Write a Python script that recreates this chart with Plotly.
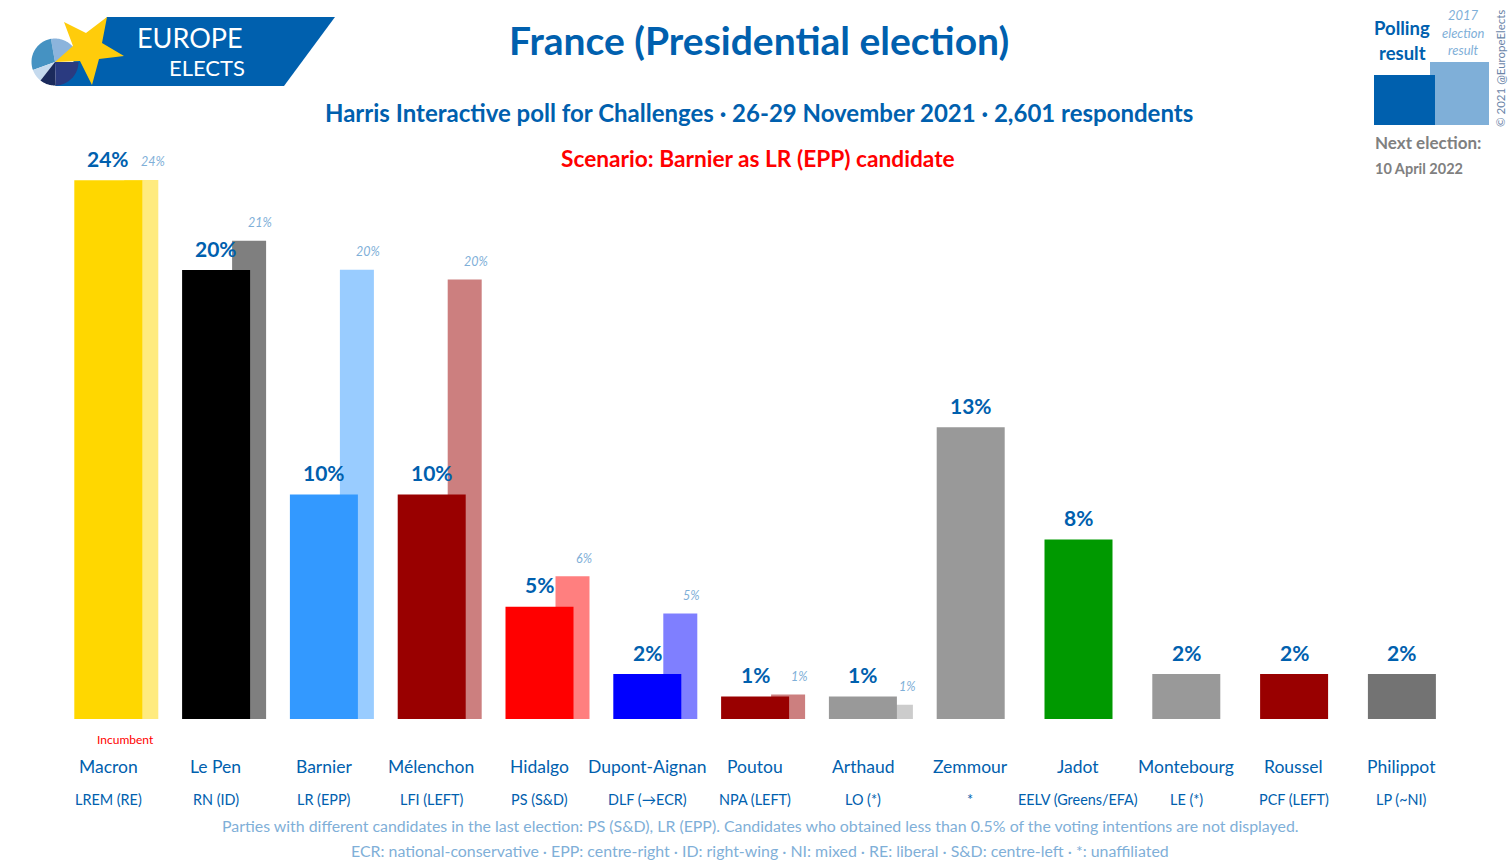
import math
import plotly.graph_objects as go

WIDTH = 1510
HEIGHT = 865
BLUE = "#0060AE"
LIGHT = "#7FAFD8"
FONT = "Lato, Roboto, sans-serif"

candidates = ["Macron", "Le Pen", "Barnier", "Mélenchon", "Hidalgo", "Dupont-Aignan", "Poutou",
              "Arthaud", "Zemmour", "Jadot", "Montebourg", "Roussel", "Philippot"]
parties = ["LREM (RE)", "RN (ID)", "LR (EPP)", "LFI (LEFT)", "PS (S&D)", "DLF (→ECR)", "NPA (LEFT)",
           "LO (*)", "*", "EELV (Greens/EFA)", "LE (*)", "PCF (LEFT)", "LP (~NI)"]
poll_values = [24, 20, 10, 10, 5, 2, 1, 1, 13, 8, 2, 2, 2]
colors = ["#FFD700", "#000000", "#3399FF", "#990000", "#FF0000", "#0000FF", "#990000",
          "#999999", "#999999", "#009900", "#999999", "#990000", "#737373"]
election_values = [24.01, 21.30, 20.01, 19.58, 6.36, 4.70, 1.09, 0.64]
election_labels = ["24%", "21%", "20%", "20%", "6%", "5%", "1%", "1%"]

x_pos = list(range(len(candidates)))
x_unit = 107.8  # pixels per candidate slot
px_per_pct = 22.45
base_px = 719


def px(x):
    return x / WIDTH


def py(y):
    return 1 - y / HEIGHT


def poly(points):
    return "M " + " L ".join(f"{px(a):.5f},{py(b):.5f}" for a, b in points) + " Z"


def add_text(fig, text, x, y, size, color=BLUE, xanchor="center", **kwargs):
    fig.add_annotation(
        text=text, x=px(x), y=py(y), xref="paper", yref="paper", showarrow=False,
        xanchor=xanchor, yanchor="middle", font=dict(family=FONT, size=size, color=color), **kwargs,
    )


fig = go.Figure()

# 2017 bars sit behind the polling bars, half transparent
fig.add_trace(go.Bar(
    x=x_pos[:len(election_values)],
    y=election_values,
    width=34 / x_unit,
    offset=16 / x_unit,
    marker=dict(color=colors[:len(election_values)], opacity=0.5, line=dict(width=0)),
    hoverinfo="skip",
))
fig.add_trace(go.Bar(
    x=x_pos,
    y=poll_values,
    width=68 / x_unit,
    offset=-34 / x_unit,
    marker=dict(color=colors, line=dict(width=0)),
    hoverinfo="skip",
))

fig.update_layout(
    width=WIDTH,
    height=HEIGHT,
    margin=dict(l=0, r=0, t=0, b=0),
    paper_bgcolor="white",
    plot_bgcolor="white",
    barmode="overlay",
    showlegend=False,
    xaxis=dict(range=[-108.3 / x_unit, (WIDTH - 108.3) / x_unit], visible=False),
    yaxis=dict(domain=[(HEIGHT - base_px) / HEIGHT, 1], range=[0, base_px / px_per_pct], visible=False),
)

# value labels, pinned to the bars through the axes
for i, v, label in zip(x_pos, election_values, election_labels):
    fig.add_annotation(x=i + 0.41, y=v, yshift=18, text=f"<i>{label}</i>", showarrow=False,
                       font=dict(family=FONT, size=12.5, color=LIGHT))
for i, v in zip(x_pos, poll_values):
    fig.add_annotation(x=i, y=v, yshift=22, text=f"<b>{v}%</b>", showarrow=False,
                       font=dict(family=FONT, size=21, color=BLUE))

# logo
fig.add_shape(type="path", path=poly([(107, 17), (335, 17), (284, 86), (55, 86)]),
              fillcolor="#0060AE", line_width=0, xref="paper", yref="paper")
pie_slices = [(-100, -20, "#8CB4DC"), (-200, -100, "#4592C2"), (-200, -232, "#C5DAEE"),
              (-232, -272, "#1B2A5C"), (-272, -360, "#2A3A80")]
for start, end, col in pie_slices:
    steps = 24
    arc = [(55 + 23.5 * math.cos(math.radians(start + (end - start) * k / steps)),
            62 + 23.5 * math.sin(math.radians(start + (end - start) * k / steps)))
           for k in range(steps + 1)]
    fig.add_shape(type="path", path=poly([(55, 62)] + arc), fillcolor=col, line_width=0,
                  xref="paper", yref="paper")
fig.add_shape(type="path",
              path=poly([(107, 17), (102, 43), (124, 56), (99, 59), (92, 85), (80, 61),
                         (55, 62), (73, 46), (64, 22), (86, 33)]),
              fillcolor="#FFCC0B", line_width=0, xref="paper", yref="paper")
add_text(fig, "EUROPE", 190, 37, 27, "white")
add_text(fig, "ELECTS", 207, 68, 22, "white")

# key, top right
fig.add_shape(type="rect", x0=px(1430), x1=px(1489), y0=py(125), y1=py(62),
              fillcolor=LIGHT, line_width=0, xref="paper", yref="paper")
fig.add_shape(type="rect", x0=px(1374), x1=px(1435), y0=py(125), y1=py(75),
              fillcolor=BLUE, line_width=0, xref="paper", yref="paper")
add_text(fig, "<b>Polling</b>", 1402, 28, 18.5)
add_text(fig, "<b>result</b>", 1402, 53, 18.5)
add_text(fig, "<i>2017</i>", 1463, 15, 13, LIGHT)
add_text(fig, "<i>election</i>", 1463, 33, 13, LIGHT)
add_text(fig, "<i>result</i>", 1463, 50, 13, LIGHT)
add_text(fig, "© 2021 @EuropeElects", 1500, 69, 11.5, "#6A84A8", textangle=-90)
add_text(fig, "<b>Next election:</b>", 1373, 143, 17, "#808080", xanchor="left")
add_text(fig, "<b>10 April 2022</b>", 1373, 168, 14.5, "#808080", xanchor="left")

# headings
add_text(fig, "<b>France (Presidential election)</b>", 759, 40, 39)
add_text(fig, "<b>Harris Interactive poll for Challenges · 26-29 November 2021 · 2,601 respondents</b>",
         759, 113, 24)
add_text(fig, "<b>Scenario: Barnier as LR (EPP) candidate</b>", 758, 159, 22.7, "#FF0000")

# candidate and party rows
for name, party, i in zip(candidates, parties, x_pos):
    add_text(fig, name, 108 + i * x_unit, 766, 17.5)
    add_text(fig, party, 108 + i * x_unit, 799, 14.4)
add_text(fig, "Incumbent", 125, 739, 12, "#FF0000")

add_text(fig, "Parties with different candidates in the last election: PS (S&D), LR (EPP). "
              "Candidates who obtained less than 0.5% of the voting intentions are not displayed.",
         760, 825, 15.9, LIGHT)
add_text(fig, "ECR: national-conservative · EPP: centre-right · ID: right-wing · NI: mixed · "
              "RE: liberal · S&D: centre-left · *: unaffiliated",
         760, 850, 15.9, LIGHT)

fig.write_html("out.html", config=dict(displayModeBar=False),
               post_script="document.body.style.margin='0';")
